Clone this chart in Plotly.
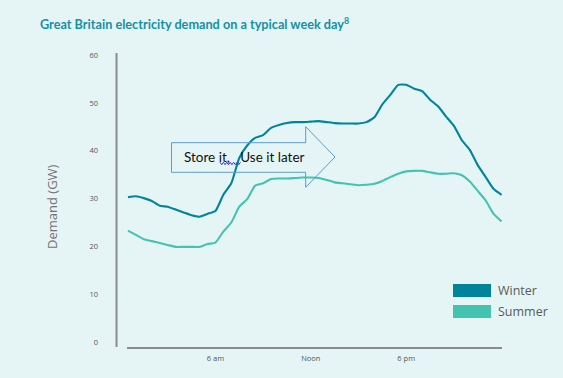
import plotly.graph_objects as go

# ---------------- data ----------------
HOURS = [h / 2 for h in range(1, 49)]  # 00:30 .. 24:00, half-hourly
WINTER = [30.3, 30.5, 30.1, 29.5, 28.5, 28.3, 27.7, 27.1, 26.5, 26.2, 26.8, 27.4,
          30.8, 33.2, 38.5, 41.1, 42.7, 43.3, 44.8, 45.4, 45.8, 46.0, 46.0, 46.1,
          46.2, 46.0, 45.8, 45.7, 45.7, 45.7, 46.0, 47.0, 49.7, 51.7, 53.8, 53.8,
          53.0, 52.5, 50.7, 49.3, 47.2, 45.2, 42.2, 40.2, 37.0, 34.5, 32.0, 30.8]
SUMMER = [23.3, 22.4, 21.5, 21.1, 20.7, 20.3, 19.9, 19.9, 19.9, 19.9, 20.5, 20.8,
          23.1, 25.0, 28.3, 29.9, 32.7, 33.2, 34.1, 34.2, 34.2, 34.3, 34.4, 34.4,
          34.3, 33.9, 33.4, 33.2, 33.0, 32.8, 32.9, 33.1, 33.7, 34.5, 35.2, 35.7,
          35.8, 35.8, 35.5, 35.2, 35.2, 35.3, 34.9, 33.6, 31.6, 29.6, 26.8, 25.2]
SERIES_NAMES = ["Winter", "Summer"]
SERIES_COLORS = ["#00849C", "#45C3B1"]
X_TICK_VALS = [6, 12, 18]
X_TICK_TEXT = ["6 am", "Noon", "6 pm"]
Y_TICK_VALS = [0, 10, 20, 30, 40, 50, 60]
TITLE = "Great Britain electricity demand on a typical week day<sup>8</sup>"
Y_TITLE = "Demand (GW)"
ARROW_TEXT = "Store it,&nbsp;&nbsp;&nbsp;Use it later"

# ---------------- layout geometry ----------------
W, H = 563, 378
L, R, T, B = 127, 502, 53, 347
BG = "#E5F5F5"


def px(x):
    return (x - L) / (R - L)


def py(y):
    return (B - y) / (B - T)


fig = go.Figure()
for name, vals, col in zip(SERIES_NAMES, [WINTER, SUMMER], SERIES_COLORS):
    fig.add_trace(go.Scatter(x=HOURS, y=vals, mode="lines", name=name,
                             line=dict(color=col, width=2.1, shape="spline", smoothing=0.5),
                             showlegend=False, hoverinfo="skip"))

shapes = []
# y-axis line (separate from x-axis, as in reference)
shapes.append(dict(type="line", xref="paper", yref="paper", x0=px(116.5), x1=px(116.5),
                   y0=py(347), y1=py(53), line=dict(color="#8C8C8C", width=2)))

# block arrow outline
pts = [(171.5, 142.7), (305.7, 142.7), (305.7, 126.7), (335, 157), (305.7, 187.3),
       (305.7, 172.3), (171.5, 172.3)]
path = "M " + " L ".join(f"{px(a):.5f},{py(b):.5f}" for a, b in pts) + " Z"
shapes.append(dict(type="path", xref="paper", yref="paper", path=path,
                   line=dict(color="#5B9BD5", width=1), fillcolor="rgba(0,0,0,0)"))

# spell-check squiggle
zz = []
xx = 220.0
k = 0
while xx <= 241:
    zz.append((xx, 163.5 + (1.2 if k % 2 else -1.2)))
    xx += 1.7
    k += 1
zpath = "M " + " L ".join(f"{px(a):.5f},{py(b):.5f}" for a, b in zz)
shapes.append(dict(type="path", xref="paper", yref="paper", path=zpath,
                   line=dict(color="#3030F0", width=1)))

# legend swatches
legend_rows = [(284, 297), (305, 318)]
annotations = []
for (y0, y1), name, col in zip(legend_rows, SERIES_NAMES, SERIES_COLORS):
    shapes.append(dict(type="rect", xref="paper", yref="paper", x0=px(453), x1=px(491),
                       y0=py(y1), y1=py(y0), fillcolor=col, line=dict(width=0)))
    annotations.append(dict(xref="paper", yref="paper", x=px(496), y=py((y0 + y1) / 2),
                            text=name, showarrow=False, xanchor="left", yanchor="middle",
                            font=dict(family="Open Sans", size=12.5, color="#595959")))

# arrow text
annotations.append(dict(xref="paper", yref="paper", x=px(182), y=py(156.5), text=ARROW_TEXT,
                        showarrow=False, xanchor="left", yanchor="middle",
                        font=dict(family="Lato", size=13.5, color="#111111")))
# y title
annotations.append(dict(xref="paper", yref="paper", x=px(52), y=py(207), text=Y_TITLE,
                        showarrow=False, textangle=-90, xanchor="center", yanchor="middle",
                        font=dict(family="Open Sans", size=13, color="#7A7070")))

fig.update_layout(
    width=W, height=H,
    margin=dict(l=L, r=W - R, t=T, b=H - B, pad=0),
    paper_bgcolor=BG, plot_bgcolor=BG,
    title=dict(text=TITLE, x=40 / W, xanchor="left", y=1 - 25 / H, yanchor="middle",
               font=dict(family="Lato", size=12.7, color="#1490A8", weight="bold")),
    xaxis=dict(range=[(L - 120) / 15.9, (R - 120) / 15.9], tickvals=X_TICK_VALS,
               ticktext=X_TICK_TEXT, showgrid=False, zeroline=False, showline=True,
               linecolor="#8C8C8C", linewidth=2, ticks="", ticklabelstandoff=3,
               tickfont=dict(family="Open Sans", size=7.5, color="#555555"), fixedrange=True),
    yaxis=dict(range=[-(B - 342) / 4.78, (342 - T) / 4.78], tickvals=Y_TICK_VALS,
               showgrid=False, zeroline=False, showline=False, ticks="",
               ticklabelstandoff=28,
               tickfont=dict(family="Open Sans", size=7.5, color="#555555"), fixedrange=True),
    shapes=shapes, annotations=annotations,
    showlegend=False,
)

fig.write_html(
    "out.html",
    config={"displayModeBar": False},
    post_script="document.body.style.margin='0';document.body.style.overflow='hidden';"
                "document.body.style.background='" + BG + "';",
)
